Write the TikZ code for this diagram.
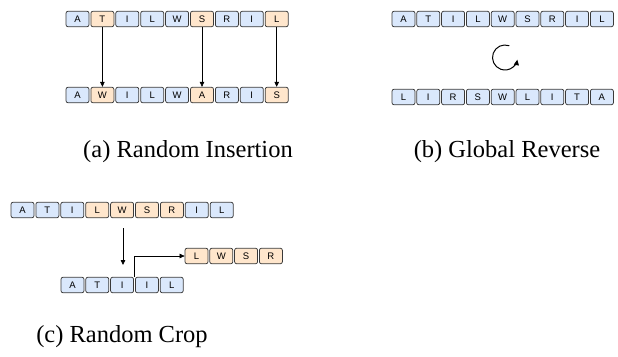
\documentclass[tikz,border=0pt]{standalone}
\usepackage{fontspec}
\setmainfont{Liberation Serif}
\setsansfont{Liberation Sans}
\usetikzlibrary{arrows.meta,calc}
\definecolor{bluefill}{HTML}{DAE8FC}
\definecolor{orangefill}{HTML}{FFE6CC}
\definecolor{boxline}{HTML}{3A3A3A}
\begin{document}
\begin{tikzpicture}[x=1pt,y=-1pt,
  tok/.style={draw=boxline, line width=0.75pt, rounded corners=2pt,
    minimum width=23pt, minimum height=15.5pt, inner sep=0pt,
    font=\sffamily\fontsize{9.5}{10}\selectfont},
  blu/.style={tok, fill=bluefill},
  org/.style={tok, fill=orangefill},
  arr/.style={-{Triangle[length=5pt,width=4.5pt]}, line width=0.65pt, draw=black},
  captxt/.style={font=\fontsize{24.5}{28}\selectfont, inner sep=0pt}]
\useasboundingbox (0,0) rectangle (618,356);

% (a) Random Insertion
\foreach \l/\s [count=\i] in {A/blu,T/org,I/blu,L/blu,W/blu,S/org,R/blu,I/blu,L/org}
  \node[\s] (at\i) at ({77.5+24.9*(\i-1)},19) {\l};
\foreach \l/\s [count=\i] in {A/blu,W/org,I/blu,L/blu,W/blu,A/org,R/blu,I/blu,S/org}
  \node[\s] (ab\i) at ({77.5+24.9*(\i-1)},95) {\l};
\draw[arr] (at2) -- (ab2);
\draw[arr] (at6) -- (ab6);
\draw[arr] (at9) -- (ab9);
\node[captxt] (capa) at (188,152) {(a) Random Insertion};

% (b) Global Reverse
\foreach \l [count=\i] in {A,T,I,L,W,S,R,I,L}
  \node[blu] (bt\i) at ({403.5+24.8*(\i-1)},19) {\l};
\foreach \l [count=\i] in {L,I,R,S,W,L,I,T,A}
  \node[blu] (bb\i) at ({403.5+24.8*(\i-1)},97) {\l};
\coordinate (rc) at (505,57.5);
\draw[arr, line width=1pt, -{Triangle[length=5.5pt,width=5pt]}] ([shift={(-70:12.5)}]rc) arc[start angle=-70, end angle=-350, radius=12.5];
\node[captxt] (capb) at (507,152) {(b) Global Reverse};

% (c) Random Crop
\foreach \l/\s [count=\i] in {A/blu,T/blu,I/blu,L/org,W/org,S/org,R/org,I/blu,L/blu}
  \node[\s] (ct\i) at ({22.5+24.9*(\i-1)},210) {\l};
\foreach \l [count=\i] in {A,T,I,I,L}
  \node[blu] (cb\i) at ({72.5+24.8*(\i-1)},285) {\l};
\foreach \l [count=\i] in {L,W,S,R}
  \node[org] (cr\i) at ({196.5+24.8*(\i-1)},256) {\l};
\coordinate (d1) at (123,228);
\coordinate (d2) at (123,265);
\draw[arr, line width=0.8pt] (d1) -- (d2);
\coordinate (gap) at ($(cb3.north east)!0.5!(cb4.north west)$);
\draw[arr] (gap) |- (cr1.west);
\node[captxt] (capc) at (122,337) {(c) Random Crop};
\end{tikzpicture}
\end{document}
